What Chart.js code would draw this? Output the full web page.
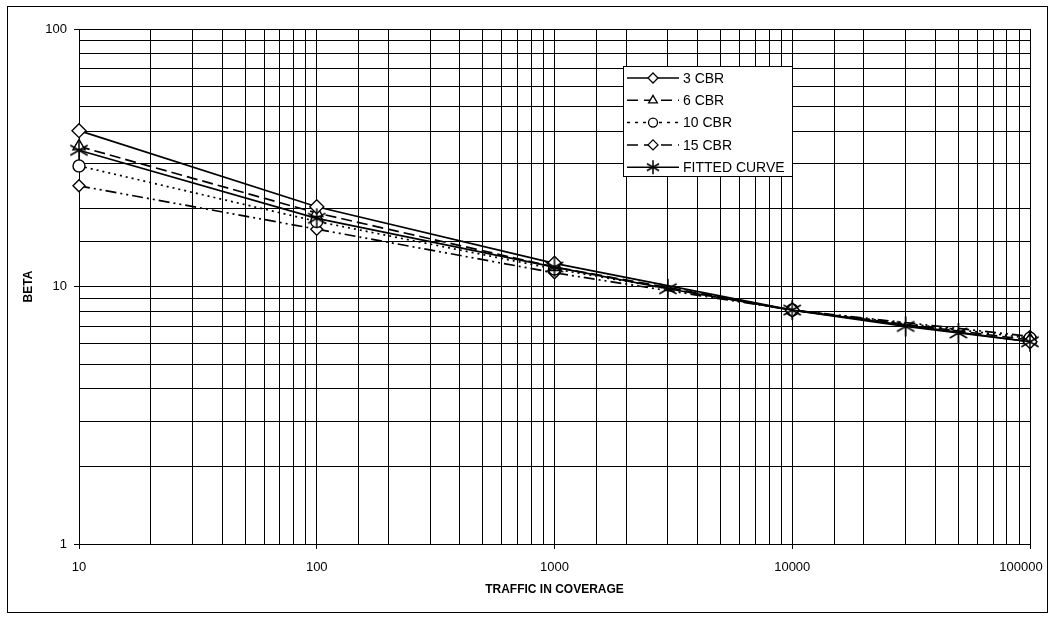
<!DOCTYPE html>
<html>
<head>
<meta charset="utf-8">
<script src="https://cdn.jsdelivr.net/npm/chart.js@4/dist/chart.umd.min.js"></script>
<style>
  html, body { margin: 0; padding: 0; background: #fff; }
  #wrap { width: 1055px; height: 619px; }
</style>
</head>
<body>
<div id="wrap"><canvas id="betaChart"></canvas></div>
<script>
// Data
const trafficCbr = [10, 100, 1000, 10000, 100000];
const cbr3 = [40.3, 20.4, 12.3, 8.1, 6.1];
const cbr6 = [35.0, 19.3, 11.9, 8.1, 6.2];
const cbr10 = [29.4, 17.9, 11.7, 8.1, 6.3];
const cbr15 = [24.6, 16.7, 11.3, 8.1, 6.4];
const trafficFit = [10, 100, 1000, 3000, 10000, 30000, 50000, 100000];
const fitted = [33.8, 18.4, 11.9, 9.8, 8.1, 7.0, 6.6, 6.1];
const xTicks = [10, 100, 1000, 10000, 100000];
const yTicks = [1, 10, 100];

function toPoints(xs, ys) {
    return xs.map((x, i) => ({ x: x, y: ys[i] }));
}

function isDecade(v) {
    const l = Math.log10(v);
    return Math.abs(l - Math.round(l)) < 1e-9;
}

// six-armed star marker for the fitted curve
function makeStar(size) {
    const c = document.createElement('canvas');
    c.width = size; c.height = size;
    const g = c.getContext('2d');
    const r = size / 2 - 1;
    g.strokeStyle = '#000';
    g.lineWidth = 1.5;
    g.beginPath();
    for (let k = 0; k < 3; k++) {
        const a = Math.PI / 2 + k * Math.PI / 3;
        g.moveTo(size / 2 + r * Math.cos(a), size / 2 + r * Math.sin(a));
        g.lineTo(size / 2 - r * Math.cos(a), size / 2 - r * Math.sin(a));
    }
    g.stroke();
    return c;
}
const starImg = makeStar(22);
const starSmall = makeStar(16);

const baseSet = {
    showLine: true,
    clip: false,
    borderColor: '#000',
    borderWidth: 1.7,
    pointBackgroundColor: '#fff',
    pointBorderColor: '#000',
    pointBorderWidth: 1.4,
    tension: 0
};

const datasets = [
    Object.assign({}, baseSet, { label: 'FITTED CURVE', data: toPoints(trafficFit, fitted), pointStyle: starImg, order: 0 }),
    Object.assign({}, baseSet, { label: '3 CBR', data: toPoints(trafficCbr, cbr3), pointStyle: 'rectRot', pointRadius: 7, order: 1 }),
    Object.assign({}, baseSet, { label: '6 CBR', data: toPoints(trafficCbr, cbr6), pointStyle: 'triangle', pointRadius: 7, borderDash: [11, 5], order: 2 }),
    Object.assign({}, baseSet, { label: '10 CBR', data: toPoints(trafficCbr, cbr10), pointStyle: 'circle', pointRadius: 6, borderDash: [2, 4], order: 3 }),
    Object.assign({}, baseSet, { label: '15 CBR', data: toPoints(trafficCbr, cbr15), pointStyle: 'rectRot', pointRadius: 6, borderDash: [11, 4, 2, 4, 2, 4], order: 4 })
];

// small marker painter for the legend box
function marker(ctx, style, x, y, r) {
    ctx.save();
    ctx.fillStyle = '#fff';
    ctx.strokeStyle = '#000';
    ctx.lineWidth = 1.3;
    ctx.setLineDash([]);
    ctx.beginPath();
    if (style === 'diamond') {
        ctx.moveTo(x, y - r); ctx.lineTo(x + r, y); ctx.lineTo(x, y + r); ctx.lineTo(x - r, y); ctx.closePath();
    } else if (style === 'triangle') {
        ctx.moveTo(x, y - r); ctx.lineTo(x + r * 0.87, y + r * 0.5); ctx.lineTo(x - r * 0.87, y + r * 0.5); ctx.closePath();
    } else if (style === 'circle') {
        ctx.arc(x, y, r, 0, Math.PI * 2);
    }
    if (style === 'star') {
        ctx.drawImage(starSmall, x - 8, y - 8);
    } else {
        ctx.fill(); ctx.stroke();
    }
    ctx.restore();
}

const legendRows = [
    { text: '3 CBR', dash: [], style: 'diamond' },
    { text: '6 CBR', dash: [11, 6], style: 'triangle' },
    { text: '10 CBR', dash: [3, 5], style: 'circle' },
    { text: '15 CBR', dash: [11, 6], style: 'diamond' },
    { text: 'FITTED CURVE', dash: [], style: 'star' }
];

const framePlugin = {
    id: 'frame',
    beforeDraw(chart) {
        const ctx = chart.ctx;
        ctx.save();
        ctx.fillStyle = '#fff';
        ctx.fillRect(0, 0, chart.width, chart.height);
        ctx.strokeStyle = '#000';
        ctx.lineWidth = 1;
        ctx.strokeRect(7.5, 6.5, 1040, 606);
        ctx.restore();
    },
    afterDraw(chart) {
        const ctx = chart.ctx;
        const bx = 623.5, by = 66.5, bw = 169, bh = 110;
        ctx.save();
        ctx.fillStyle = '#fff';
        ctx.fillRect(bx, by, bw, bh);
        ctx.strokeStyle = '#000';
        ctx.lineWidth = 1;
        ctx.strokeRect(bx, by, bw, bh);
        ctx.font = '14px "Liberation Sans", Arial, sans-serif';
        ctx.textBaseline = 'middle';
        ctx.fillStyle = '#000';
        legendRows.forEach((row, i) => {
            const y = 78 + i * 22.3;
            ctx.beginPath();
            ctx.setLineDash(row.dash);
            ctx.lineWidth = 1.5;
            ctx.moveTo(627, y);
            ctx.lineTo(679, y);
            ctx.stroke();
            ctx.setLineDash([]);
            marker(ctx, row.style, 653, y, row.style === 'circle' ? 4.5 : 5);
            ctx.fillText(row.text, 683, y + 1);
        });
        ctx.restore();
    }
};

const tickFont = { family: '"Liberation Sans", Arial, sans-serif', size: 13 };
const titleFont = { family: '"Liberation Sans", Arial, sans-serif', size: 12, weight: 'bold' };

const ctx = document.getElementById('betaChart').getContext('2d');
const betaChart = new Chart(ctx, {
    type: 'scatter',
    data: { datasets: datasets },
    options: {
        responsive: true,
        maintainAspectRatio: false,
        animation: false,
        layout: { padding: { top: 29, right: 25, left: 0, bottom: 0 } },
        plugins: {
            legend: { display: false },
            tooltip: { enabled: false }
        },
        scales: {
            x: {
                type: 'logarithmic',
                min: xTicks[0],
                max: xTicks[xTicks.length - 1],
                afterFit: function(scale) {
                    scale.height = 75;
                    scale.paddingLeft = 0;
                    scale.paddingRight = 0;
                },
                border: { color: '#000', width: 1 },
                grid: {
                    color: '#000',
                    lineWidth: 1,
                    tickLength: 5,
                    tickColor: function(c) { return c.tick && isDecade(c.tick.value) ? '#000' : 'rgba(0,0,0,0)'; }
                },
                ticks: {
                    autoSkip: false,
                    maxRotation: 0,
                    padding: 11,
                    color: '#000',
                    font: tickFont,
                    callback: function(v) {
                        if (!xTicks.includes(v)) return '';
                        // last label is pulled inside the frame, as in the original
                        return v === xTicks[xTicks.length - 1] ? String(v) + '     ' : String(v);
                    }
                },
                title: {
                    display: true,
                    text: 'TRAFFIC IN COVERAGE',
                    color: '#000',
                    font: titleFont,
                    padding: { top: 4, bottom: 22 }
                }
            },
            y: {
                type: 'logarithmic',
                min: yTicks[0],
                max: yTicks[yTicks.length - 1],
                afterFit: function(scale) { scale.width = 79; },
                border: { color: '#000', width: 1 },
                grid: {
                    color: '#000',
                    lineWidth: 1,
                    tickLength: 5,
                    tickColor: function(c) { return c.tick && isDecade(c.tick.value) ? '#000' : 'rgba(0,0,0,0)'; }
                },
                ticks: {
                    autoSkip: false,
                    padding: 7,
                    color: '#000',
                    font: tickFont,
                    callback: function(v) { return yTicks.includes(v) ? String(v) : ''; }
                },
                title: {
                    display: true,
                    text: 'BETA',
                    color: '#000',
                    font: titleFont,
                    padding: { top: 21, bottom: 4 }
                }
            }
        }
    },
    plugins: [framePlugin]
});
</script>
</body>
</html>
